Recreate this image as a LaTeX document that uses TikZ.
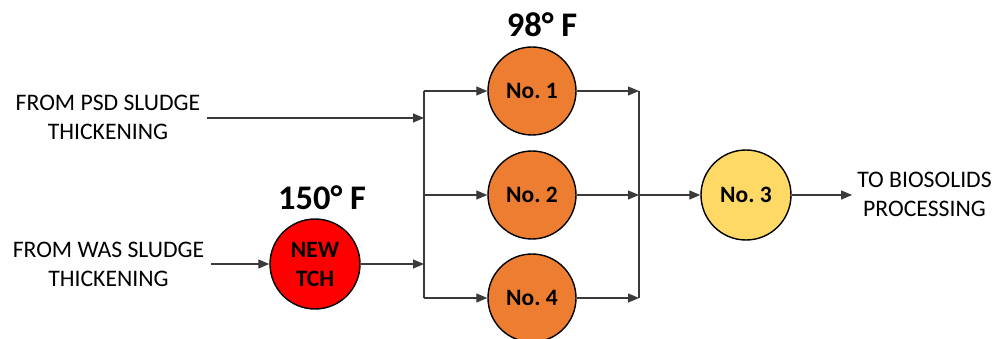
\documentclass[tikz,border=0pt]{standalone}
\usepackage{fontspec}
\setmainfont{Carlito}
\usetikzlibrary{arrows.meta}
\definecolor{dorange}{HTML}{ED7D31}
\definecolor{dyellow}{HTML}{FFD966}
\definecolor{dred}{HTML}{FF0000}
\definecolor{lin}{HTML}{3A3A3A}
\begin{document}
\begin{tikzpicture}[x=1pt,y=-1pt,
  tank/.style={circle,draw=black,line width=1.4pt,minimum size=88pt,inner sep=0pt,
    font=\fontsize{23.5}{29}\selectfont\bfseries,align=center},
  lbl/.style={font=\fontsize{23.7}{29}\selectfont,align=center,inner ysep=0pt},
  temp/.style={font=\fontsize{34.5}{38}\selectfont\bfseries,inner sep=0pt},
  flow/.style={draw=lin,line width=1.1pt,-{Triangle[length=11pt,width=9pt]}},
  pipe/.style={draw=lin,line width=1.1pt}]
\useasboundingbox (0,0) rectangle (995,339);

% buses
\coordinate (lt) at (424,91);
\coordinate (lb) at (424,298);
\coordinate (lm) at (424,195);
\coordinate (lp) at (424,118);
\coordinate (lw) at (424,264);
\coordinate (rt) at (639,91);
\coordinate (rb) at (639,298);
\coordinate (rm) at (639,195);

% tanks
\node[tank,fill=dorange] (n1) at (532,91) {No.\ 1};
\node[tank,fill=dorange] (n2) at (532,195) {No.\ 2};
\node[tank,fill=dorange] (n4) at (532,298) {No.\ 4};
\node[tank,fill=dyellow,minimum size=90pt] (n3) at (746,195) {No.\ 3};
\node[tank,fill=dred,minimum size=90pt] (tch) at (315,264) {NEW\\TCH};

% temperatures
\node[temp] (t98) at (542,25) {98° F};
\node[temp] (t150) at (322,198) {150° F};

% labels
\node[lbl,inner xsep=7pt] (psd) at (108,117.5) {FROM PSD SLUDGE\\THICKENING};
\node[lbl,inner xsep=7pt] (was) at (108.5,264.5) {FROM WAS SLUDGE\\THICKENING};
\node[lbl,inner xsep=5pt] (bio) at (924.5,194.5) {TO BIOSOLIDS\\PROCESSING};

% connectors
\draw[pipe] (lt) -- (lb);
\draw[pipe] (rt) -- (rb);
\draw[flow] (psd.east |- lp) -- (lp);
\draw[flow] (was.east |- tch) -- (tch.west);
\draw[flow] (tch.east) -- (lw);
\draw[flow] (lt) -- (n1.west);
\draw[flow] (lm) -- (n2.west);
\draw[flow] (lb) -- (n4.west);
\draw[flow] (n1.east) -- (rt);
\draw[flow] (n2.east) -- (rm);
\draw[flow] (n4.east) -- (rb);
\draw[flow] (rm) -- (n3.west);
\draw[flow] (n3.east) -- (bio.west |- n3);
\end{tikzpicture}
\end{document}
